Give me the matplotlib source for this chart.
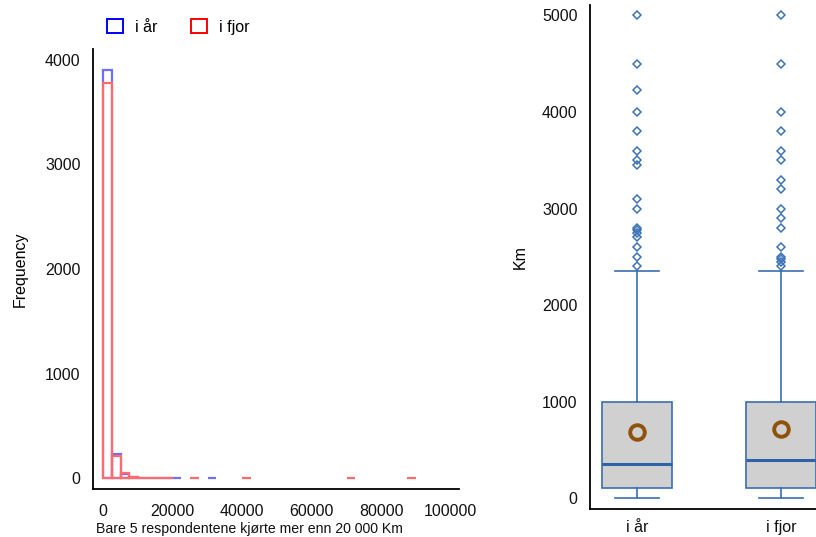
import numpy as np
import matplotlib
matplotlib.use("Agg")
import matplotlib.pyplot as plt
from matplotlib.patches import Patch

plt.rcParams['font.family'] = ['Liberation Sans', 'DejaVu Sans']

# ---- histogram data (bin start in km, count), bin width 2500 km ----
bin_width = 2500
bins_i_ar = [0, 2500, 5000, 7500, 10000, 12500, 15000, 17500, 20000, 30000]
counts_i_ar = [3900, 227, 38, 8, 4, 3, 2, 1, 1, 1]
bins_i_fjor = [0, 2500, 5000, 7500, 10000, 12500, 15000, 17500, 25000, 40000, 70000, 87500]
counts_i_fjor = [3775, 215, 50, 10, 5, 3, 2, 1, 1, 1, 1, 1]
hist_xticks = [0, 20000, 40000, 60000, 80000, 100000]
hist_yticks = [0, 1000, 2000, 3000, 4000]

# ---- boxplot summary data (km) ----
groups = ["i år", "i fjor"]
q1 = [103, 103]
median = [352, 396]
q3 = [1000, 1000]
whisker_low = [0, 0]
whisker_high = [2350, 2350]
means = [690, 717]
outliers_i_ar = [2400, 2500, 2600, 2700, 2750, 2780, 2800, 3000, 3100, 3450,
                 3500, 3600, 3800, 4000, 4230, 4500, 5000]
outliers_i_fjor = [2400, 2450, 2480, 2500, 2600, 2800, 2900, 3000, 3200, 3300,
                   3500, 3600, 3800, 4000, 4500, 5000]
box_yticks = [0, 1000, 2000, 3000, 4000, 5000]

W, H = 816, 537
fig = plt.figure(figsize=(W / 100, H / 100), dpi=100)

def px_axes(x0, y0, x1, y1):
    return fig.add_axes([x0 / W, 1 - y1 / H, (x1 - x0) / W, (y1 - y0) / H])

blue = '#6f6fff'
red = '#ff6a6a'

# ---------------- histogram ----------------
ax1 = px_axes(93, 49, 459, 489)
ax1.bar(bins_i_ar, counts_i_ar, width=bin_width, align='edge', fill=False,
        edgecolor=blue, linewidth=1.6)
ax1.bar(bins_i_fjor, counts_i_fjor, width=bin_width, align='edge', fill=False,
        edgecolor=red, linewidth=1.6)
ax1.set_xlim(-2960, 102360)
ax1.set_ylim(-105, 4105)
ax1.set_xticks(hist_xticks)
ax1.set_xticklabels([str(v) for v in hist_xticks])
ax1.set_yticks(hist_yticks)
for s in ['top', 'right']:
    ax1.spines[s].set_visible(False)
for s in ['left', 'bottom']:
    ax1.spines[s].set_linewidth(1.3)
ax1.tick_params(axis='both', length=0, labelsize=11.5, colors='#111111')
ax1.tick_params(axis='y', pad=9)
ax1.tick_params(axis='x', pad=11)
ax1.set_ylabel("Frequency", fontsize=11.5, labelpad=12)
fig.text(96 / W, 1 - 529 / H, "Bare 5 respondentene kjørte mer enn 20 000 Km",
         fontsize=10.2, ha='left', va='center', color='#111111')

handles = [Patch(facecolor='none', edgecolor='blue', linewidth=1.4, label='i år'),
           Patch(facecolor='none', edgecolor='red', linewidth=1.4, label='i fjor')]
fig.legend(handles=handles, loc='center left', bbox_to_anchor=(99 / W, 1 - 27 / H),
           ncol=2, frameon=False, fontsize=11.5, handlelength=1.0, handleheight=1.0,
           handletextpad=0.75, columnspacing=2.1, borderpad=0)

# ---------------- boxplot ----------------
ax2 = px_axes(590, 5, 828, 509)
positions = [1, 2]
edge = '#3A6DB0'
for i, p in enumerate(positions):
    ax2.bxp([{
        'med': median[i], 'q1': q1[i], 'q3': q3[i],
        'whislo': whisker_low[i], 'whishi': whisker_high[i],
        'fliers': [outliers_i_ar, outliers_i_fjor][i], 'label': groups[i],
    }], positions=[p], widths=0.49, patch_artist=True, showfliers=True,
        boxprops=dict(facecolor='#D0D0D0', edgecolor=edge, linewidth=1.2),
        medianprops=dict(color='#2E63A8', linewidth=2.2),
        whiskerprops=dict(color=edge, linewidth=1.2),
        capprops=dict(color=edge, linewidth=1.2),
        capwidths=0.31,
        flierprops=dict(marker='D', markersize=4.2, markerfacecolor='none',
                        markeredgecolor='#3C73B8', markeredgewidth=1.1, linestyle='none'))
ax2.plot(positions, means, linestyle='none', marker='o', markersize=10.5,
         markerfacecolor='none', markeredgecolor='#8E520C', markeredgewidth=2.8)
ax2.set_xlim(1 - 47 / 144, 2 + 47 / 144)
ax2.set_ylim(-111, 5107)
ax2.set_xticks(positions)
ax2.set_xticklabels(groups)
ax2.set_yticks(box_yticks)
for s in ['top', 'right']:
    ax2.spines[s].set_visible(False)
for s in ['left', 'bottom']:
    ax2.spines[s].set_linewidth(1.3)
ax2.tick_params(axis='both', length=0, labelsize=11.5, colors='#111111')
ax2.tick_params(axis='y', pad=9)
ax2.tick_params(axis='x', pad=8)
ax2.set_ylabel("Km", fontsize=11.5, labelpad=10)

fig.savefig("out.png", dpi=100)
